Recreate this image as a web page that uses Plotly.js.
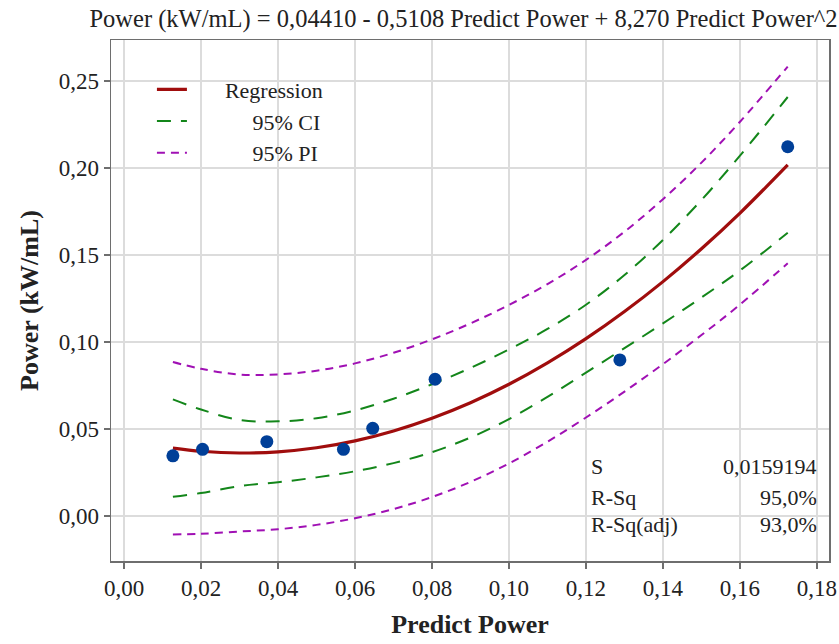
<!DOCTYPE html>
<html>
<head>
<meta charset="utf-8">
<script src="https://cdn.plot.ly/plotly-3.0.1.min.js"></script>
<style>html,body{margin:0;padding:0;background:#fff;}#chart{width:839px;height:644px;}</style>
</head>
<body>
<div id="chart"></div>
<script>
// Observed data points
const predictPower = [0.0127, 0.0204, 0.0371, 0.0570, 0.0646, 0.0808, 0.1288, 0.1724];
const powerObserved = [0.0346, 0.0383, 0.0427, 0.0383, 0.0504, 0.0786, 0.0897, 0.2122];

// Curves
const curveX = [0.0127, 0.02, 0.03, 0.04, 0.05, 0.06, 0.07, 0.08, 0.09, 0.10, 0.11, 0.12, 0.13, 0.14, 0.15, 0.16, 0.1724];
const regression = [0.0390, 0.0372, 0.0362, 0.0369, 0.0392, 0.0432, 0.0489, 0.0562, 0.0651, 0.0757, 0.0880, 0.1019, 0.1175, 0.1347, 0.1536, 0.1741, 0.2018];
const ciUpper = [0.0670, 0.0612, 0.0552, 0.0544, 0.0562, 0.0607, 0.0674, 0.0757, 0.0851, 0.0957, 0.1075, 0.1214, 0.1385, 0.1587, 0.1816, 0.2071, 0.2408];
const ciLower = [0.0110, 0.0132, 0.0172, 0.0194, 0.0222, 0.0257, 0.0304, 0.0367, 0.0451, 0.0557, 0.0685, 0.0824, 0.0965, 0.1107, 0.1256, 0.1411, 0.1628];
const piUpper = [0.0885, 0.0846, 0.0813, 0.0814, 0.0835, 0.0877, 0.0938, 0.1015, 0.1107, 0.1213, 0.1333, 0.1472, 0.1634, 0.1821, 0.2031, 0.2266, 0.2583];
const piLower = [-0.0106, -0.0102, -0.0089, -0.0076, -0.0051, -0.0013, 0.0040, 0.0109, 0.0196, 0.0302, 0.0427, 0.0566, 0.0715, 0.0873, 0.1040, 0.1215, 0.1453];

// Text
const chartTitle = "Power (kW/mL) = 0,04410 - 0,5108 Predict Power + 8,270 Predict Power^2";
const xTitle = "Predict Power";
const yTitle = "Power (kW/mL)";
const legendNames = ["Regression", "95% CI", "95% PI"];
const statLabels = ["S", "R-Sq", "R-Sq(adj)"];
const statValues = ["0,0159194", "95,0%", "93,0%"];
const xTicks = [0, 0.02, 0.04, 0.06, 0.08, 0.10, 0.12, 0.14, 0.16, 0.18];
const yTicks = [0, 0.05, 0.10, 0.15, 0.20, 0.25];

const FONT = "Liberation Serif, Times New Roman, serif";
const nb = n => "\u00a0".repeat(n);

const traces = [
  {x: curveX, y: regression, mode: "lines", name: nb(6) + legendNames[0],
   line: {color: "#a00d0d", width: 3.2, shape: "spline"}, legendgroup: "a"},
  {x: curveX, y: ciUpper, mode: "lines", name: nb(11) + legendNames[1],
   line: {color: "#13861a", width: 2, dash: "14px,10px", shape: "spline"}, legendgroup: "b"},
  {x: curveX, y: ciLower, mode: "lines", showlegend: false,
   line: {color: "#13861a", width: 2, dash: "14px,10px", shape: "spline"}, legendgroup: "b"},
  {x: curveX, y: piUpper, mode: "lines", name: nb(11) + legendNames[2],
   line: {color: "#a010b4", width: 2, dash: "8px,6px", shape: "spline"}, legendgroup: "c"},
  {x: curveX, y: piLower, mode: "lines", showlegend: false,
   line: {color: "#a010b4", width: 2, dash: "8px,6px", shape: "spline"}, legendgroup: "c"},
  {x: predictPower, y: powerObserved, mode: "markers", showlegend: false,
   marker: {color: "#003f98", size: 13}}
];

const statY = [0.1823, 0.1228, 0.0691];
const annotations = [];
statLabels.forEach((t, i) => {
  annotations.push({xref: "paper", yref: "paper", x: 0.6657, y: statY[i], xanchor: "left", yanchor: "middle",
    text: t, showarrow: false, font: {family: FONT, size: 22, color: "#222"}});
  annotations.push({xref: "paper", yref: "paper", x: 0.986, y: statY[i], xanchor: "right", yanchor: "middle",
    text: statValues[i], showarrow: false, font: {family: FONT, size: 22, color: "#222"}});
});

const axisCommon = {
  showgrid: true, gridcolor: "#dcdcdc", gridwidth: 2,
  zeroline: false, showline: true, linecolor: "#6e6e6e", linewidth: 1.5, mirror: true,
  ticks: "outside", ticklen: 6, tickcolor: "#6e6e6e", tickwidth: 1.5,
  tickfont: {family: FONT, size: 23, color: "#222"}, tickformat: ".2f"
};

const layout = {
  width: 839, height: 644,
  margin: {l: 111, r: 10, t: 40, b: 83},
  paper_bgcolor: "#fff", plot_bgcolor: "#fff",
  separators: ",.",
  title: {text: chartTitle, x: 0.5525, xanchor: "center", y: 0.971, yanchor: "middle",
          xref: "container", yref: "container", font: {family: FONT, size: 24.5, color: "#222"}},
  xaxis: Object.assign({}, axisCommon, {range: [-0.003377, 0.18312], tickvals: xTicks,
    title: {text: xTitle, font: {family: FONT, size: 26, color: "#222", weight: "bold"}, standoff: 14}}),
  yaxis: Object.assign({}, axisCommon, {range: [-0.02586, 0.27356], tickvals: yTicks,
    title: {text: yTitle, font: {family: FONT, size: 26, color: "#222", weight: "bold"}, standoff: 12}}),
  showlegend: true,
  legend: {x: 0.057, xanchor: "left", y: 0.945, yanchor: "top", bgcolor: "rgba(0,0,0,0)",
           font: {family: FONT, size: 22, color: "#222"}, traceorder: "normal"},
  annotations: annotations
};

Plotly.newPlot("chart", traces, layout, {displayModeBar: false, staticPlot: true});
</script>
</body>
</html>
